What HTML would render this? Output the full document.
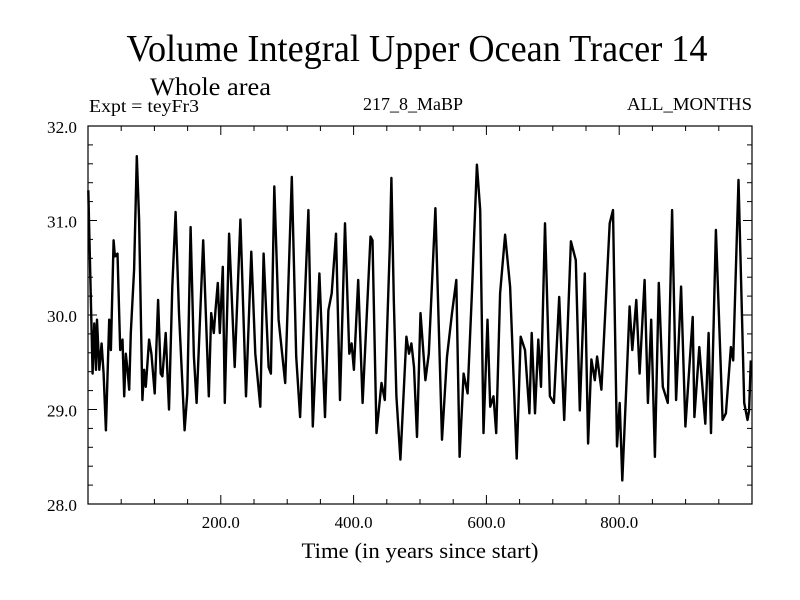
<!DOCTYPE html>
<html><head><meta charset="utf-8"><style>
html,body{margin:0;padding:0;background:#fff;}
svg{display:block;font-family:"Liberation Serif",serif;}
</style></head><body>
<svg id="chart" width="800" height="600">
<text x="417" y="61" font-size="38" text-anchor="middle" textLength="581" lengthAdjust="spacingAndGlyphs">Volume Integral Upper Ocean Tracer 14</text>
<text x="150" y="95" font-size="25" textLength="121" lengthAdjust="spacingAndGlyphs">Whole area</text>
<text x="89" y="112" font-size="18" textLength="110" lengthAdjust="spacingAndGlyphs">Expt = teyFr3</text>
<text x="363" y="110" font-size="18" textLength="100" lengthAdjust="spacingAndGlyphs">217_8_MaBP</text>
<text x="752" y="110" font-size="18" text-anchor="end" textLength="125" lengthAdjust="spacingAndGlyphs">ALL_MONTHS</text>
<text x="420" y="558" font-size="22" text-anchor="middle" textLength="237" lengthAdjust="spacingAndGlyphs">Time (in years since start)</text>
<g id="axes"></g>
<rect x="88" y="126" width="664" height="378" fill="none" stroke="#000" stroke-width="1.2"/>
</svg>
<script>
const years=[0.5,7,9.5,12,13.5,17,20.5,23.5,27,32,34.5,38.5,40.5,44.5,48.5,52,54.5,57,59.5,62,64.5,69.5,73.5,77,82,84.5,87,92,95.5,100.5,105.5,109.5,112,117,122,127,132,137,145.5,149.5,154.5,159.5,163.5,173.5,182,185.5,189.5,192,195.5,198.5,203,206,212.5,221,229.5,238,246,252,259.5,264.5,272,275.5,280.5,287,297,307,313.5,319.5,332,338.5,348.5,357,362,367,373.5,379.5,387,393.5,397,400.5,407,413.5,425.5,428.5,434.5,442,447,454.5,457,460.5,464.5,470.5,479.5,483.5,487,491,495.5,500.7,508.2,513.2,523.2,533.2,540.7,548.2,554.7,559.7,565.7,571.7,578.2,585.7,590.7,595.7,601.7,605.7,610.7,614.7,620.7,628.2,635.7,645.7,651.7,658.2,664.7,668.2,673.2,678.2,682.2,688.2,695.7,701.7,709.7,717.2,727.2,734.7,740.7,748.2,753.2,758.2,763.2,766.7,773.2,785.7,790.7,796.7,800.7,804.7,810.7,815.7,819.7,825.7,830.7,838.2,843.2,848.2,853.7,859.7,865.7,873.2,879.7,885.7,893.2,899.7,910.7,913.2,920.7,929.7,934.7,938.2,945.7,955.7,960.7,968.2,971.7,979.7,988.2,993.2,995.7,998.2];
const values=[31.32,29.38,29.91,29.42,29.95,29.42,29.70,29.38,28.78,29.95,29.63,30.79,30.62,30.65,29.63,29.74,29.14,29.59,29.42,29.21,29.81,30.48,31.68,31.01,29.10,29.42,29.24,29.74,29.59,29.17,30.16,29.38,29.35,29.81,29.0,30.30,31.09,30.02,28.78,29.17,30.93,29.56,29.07,30.79,29.14,30.02,29.81,30.05,30.34,29.81,30.51,29.07,30.86,29.45,31.01,29.14,30.67,29.59,29.03,30.65,29.45,29.38,31.36,29.95,29.28,31.46,29.56,28.92,31.11,28.82,30.44,28.92,30.05,30.23,30.86,29.10,30.97,29.59,29.70,29.42,30.37,29.07,30.83,30.79,28.75,29.28,29.10,30.72,31.45,30.16,29.14,28.47,29.77,29.59,29.70,29.45,28.71,30.02,29.31,29.59,31.13,28.68,29.56,30.02,30.37,28.50,29.38,29.17,30.23,31.59,31.11,28.75,29.95,29.03,29.14,28.75,30.23,30.85,30.30,28.48,29.77,29.63,28.96,29.81,28.96,29.74,29.24,30.97,29.14,29.07,30.19,28.89,30.78,30.58,28.99,30.44,28.64,29.53,29.31,29.56,29.21,30.97,31.11,28.61,29.07,28.25,29.24,30.09,29.63,30.16,29.38,30.37,29.07,29.95,28.50,30.34,29.24,29.07,31.11,29.10,30.30,28.82,29.98,28.92,29.66,28.85,29.81,28.75,30.90,28.89,28.96,29.66,29.52,31.43,29.07,28.89,28.99,29.52];
const yTickLabels=["28.0","29.0","30.0","31.0","32.0"];
const xTickLabels=["200.0","400.0","600.0","800.0"];
const X0=88,X1=752,Y0=504,Y1=126;
function xs(v){return X0+(v-0)/(1000-0)*(X1-X0);}
function ys(v){return Y0-(v-28)/(32-28)*(Y0-Y1);}
const svg=document.getElementById('chart'),g=document.getElementById('axes'),NS='http://www.w3.org/2000/svg';
function ln(x1,y1,x2,y2){const l=document.createElementNS(NS,'line');l.setAttribute('x1',x1);l.setAttribute('y1',y1);l.setAttribute('x2',x2);l.setAttribute('y2',y2);l.setAttribute('stroke','#000');l.setAttribute('stroke-width','1');


g.appendChild(l);}
for(let v=28;v<=32.001;v+=0.2){const y=ys(v);const major=Math.abs(v-Math.round(v))<0.01;const L=major?9:5;ln(X0,y,X0+L,y);ln(X1,y,X1-L,y);}
for(let v=0;v<=1000;v+=50){const x=xs(v);const L=(v%200===0)?9:5;ln(x,Y0,x,Y0-L);ln(x,Y1,x,Y1+L);}
yTickLabels.forEach(s=>{const t=document.createElementNS(NS,'text');t.setAttribute('x',X0-11);t.setAttribute('y',ys(parseFloat(s))+7);t.setAttribute('font-size','17');t.setAttribute('text-anchor','end');t.setAttribute('textLength','30');t.setAttribute('lengthAdjust','spacingAndGlyphs');t.textContent=s;


g.appendChild(t);});
xTickLabels.forEach(s=>{const t=document.createElementNS(NS,'text');t.setAttribute('x',xs(parseFloat(s)));t.setAttribute('y',Y0+24);t.setAttribute('font-size','17');t.setAttribute('text-anchor','middle');t.setAttribute('textLength','38');t.setAttribute('lengthAdjust','spacingAndGlyphs');t.textContent=s;


g.appendChild(t);});
const p=document.createElementNS(NS,'polyline');
p.setAttribute('points',years.map((yr,i)=>xs(yr).toFixed(1)+','+ys(values[i]).toFixed(1)).join(' '));
p.setAttribute('fill','none');p.setAttribute('stroke','#000');p.setAttribute('stroke-width','2.4');p.setAttribute('stroke-linejoin','round');


svg.appendChild(p);
</script>
</body></html>
